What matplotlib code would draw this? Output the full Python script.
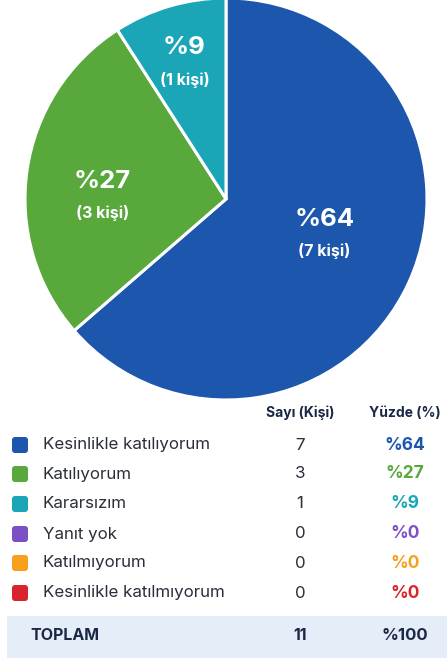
import numpy as np
import matplotlib
matplotlib.use("Agg")
import matplotlib.pyplot as plt
from matplotlib.patches import FancyBboxPatch, Rectangle

plt.rcParams['font.family'] = ['Inter', 'DejaVu Sans']

categories = ["Kesinlikle katılıyorum", "Katılıyorum", "Kararsızım", "Yanıt yok",
              "Katılmıyorum", "Kesinlikle katılmıyorum"]
counts = [7, 3, 1, 0, 0, 0]
percents = ["%64", "%27", "%9", "%0", "%0", "%0"]
colors = ["#1c56ad", "#58a83c", "#1ba6b8", "#7d4fc6", "#f8a01e", "#d8252b"]
pie_labels = ["%64", "%27", "%9"]
pie_sub = ["(7 kişi)", "(3 kişi)", "(1 kişi)"]
header = ["Sayı (Kişi)", "Yüzde (%)"]
total_label = "TOPLAM"
total_count = "11"
total_pct = "%100"

W, H = 447, 659
fig = plt.figure(figsize=(W / 100, H / 100), dpi=100)
fig.patch.set_facecolor("white")

# pie axes (pixel geometry)
cx, cy, R = 226, 199, 201
axp = fig.add_axes([(cx - R) / W, (H - cy - R) / H, 2 * R / W, 2 * R / H])
pie_vals = [c for c in counts if c > 0]
wedges, _ = axp.pie(pie_vals, colors=colors[:len(pie_vals)], startangle=90,
                    counterclock=False, radius=1.0,
                    wedgeprops=dict(edgecolor="white", linewidth=2.2))
axp.set_xlim(-1, 1)
axp.set_ylim(-1, 1)
axp.set_aspect("equal")
axp.axis("off")

dists = [0.50, 0.62, 0.78]
nudges = [13, 0, -1]
for w, lab, sub, d, n in zip(wedges, pie_labels, pie_sub, dists, nudges):
    ang = np.deg2rad((w.theta1 + w.theta2) / 2 + n)
    x, y = d * np.cos(ang), d * np.sin(ang)
    axp.text(x, y, lab, ha="center", va="center", color="white",
             fontsize=18.5, fontweight="bold")
    axp.text(x, y - 0.16, sub, ha="center", va="center", color="white",
             fontsize=11.5, fontweight="bold")

# table axes in pixel coords
axt = fig.add_axes([0, 0, 1, 1])
axt.set_xlim(0, W)
axt.set_ylim(H, 0)
axt.axis("off")
axt.patch.set_alpha(0)

col1, col2 = 300, 405
navy = "#1b2845"
axt.text(col1, 413, header[0], ha="center", va="center", fontsize=10,
         fontweight="bold", color=navy)
axt.text(col2, 413, header[1], ha="center", va="center", fontsize=10,
         fontweight="bold", color=navy)

row_y = [445, 474, 504, 534, 563, 593]
for yv, cat, cnt, pct, col in zip(row_y, categories, counts, percents, colors):
    axt.add_patch(FancyBboxPatch((12, yv - 8), 16, 16,
                                 boxstyle="round,pad=0,rounding_size=3",
                                 facecolor=col, edgecolor="none"))
    axt.text(43, yv, cat, ha="left", va="center", fontsize=12.2, color="#2a2f3a")
    axt.text(col1, yv, str(cnt), ha="center", va="center", fontsize=12.2,
             color="#2a2f3a")
    axt.text(col2, yv, pct, ha="center", va="center", fontsize=12.5,
             fontweight="bold", color=col)

axt.add_patch(Rectangle((7, 616), W - 7, 42, facecolor="#e4edf8", edgecolor="none"))
axt.text(30, 636, total_label, ha="left", va="center", fontsize=11.5,
         fontweight="bold", color=navy)
axt.text(col1, 636, total_count, ha="center", va="center", fontsize=11.5,
         fontweight="bold", color=navy)
axt.text(col2, 636, total_pct, ha="center", va="center", fontsize=12,
         fontweight="bold", color=navy)

fig.savefig("out.png", dpi=100, facecolor="white")
